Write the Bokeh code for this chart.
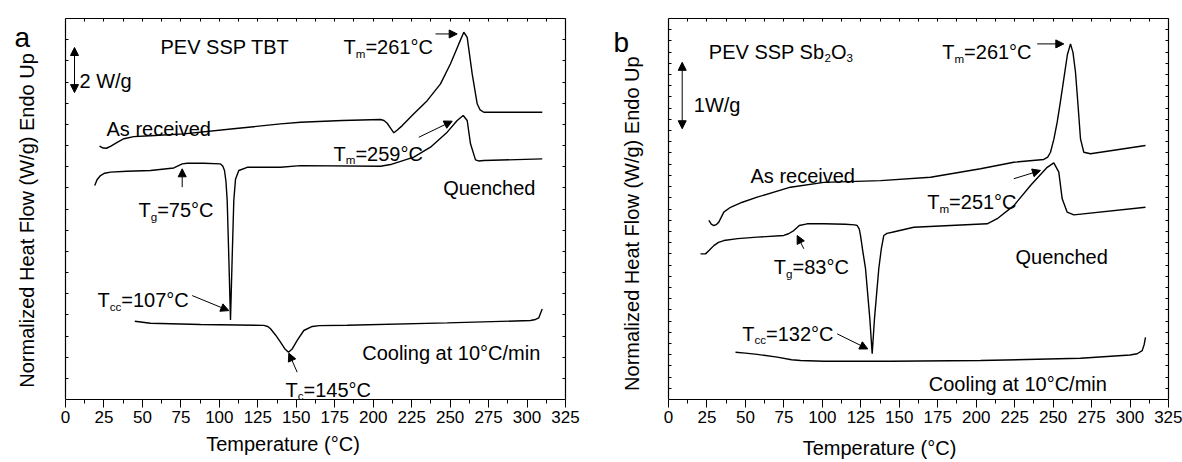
import math
from bokeh.plotting import figure
from bokeh.models import Range1d, LinearAxis, FixedTicker, Arrow, NormalHead
from bokeh.layouts import row
from bokeh.embed import file_html
from bokeh.resources import INLINE
from bokeh.core.properties import value

FONT = "Liberation Sans"

# ---------------- data: panel a (PEV SSP TBT) ----------------
a_recv_T = [22.1, 24.5, 26.65, 29.5, 33.6, 38, 44.4, 55.25, 76.9, 109.2, 139.75, 152.75, 180, 204.75, 207,
            209.1, 211.5, 213.4, 215.5, 218.9, 226.4, 235.1, 243.75, 250.25, 255.65, 258.9, 261.1, 264.35,
            267.6, 269.5, 271.9, 290, 309.9]
a_recv_Y = [11.97, 11.88, 11.87, 11.97, 12.15, 12.32, 12.42, 12.46, 12.55, 12.79, 13.02, 13.10, 13.18, 13.23,
            13.18, 13.05, 12.8, 12.60, 12.72, 12.94, 13.50, 14.12, 14.91, 15.86, 16.80, 17.35, 17.11, 15.38,
            13.97, 13.68, 13.57, 13.57, 13.57]

a_quen_T = [19.0, 20.5, 22.75, 25.5, 29.25, 40, 55.25, 70.4, 73.5, 75.85, 79.1, 90, 100.75, 102.3, 103.35,
            104.3, 105.1, 106.2, 107.25, 108.3, 109.4, 110.5, 112.65, 118.1, 139.75, 152.75, 204.75, 211.25,
            226.4, 237.25, 248.1, 254.6, 258.5, 261.1, 263.25, 266.5, 268.5, 271.9, 309.9]
a_quen_Y = [10.11, 10.38, 10.58, 10.69, 10.74, 10.78, 10.82, 10.94, 11.05, 11.13, 11.16, 11.16, 11.13, 11.02,
            10.82, 10.3, 9.40, 6.6, 3.76, 6.6, 9.40, 10.4, 10.82, 10.97, 10.97, 11.05, 11.02, 11.10, 11.45,
            11.92, 12.63, 13.18, 13.42, 13.18, 12.08, 11.32, 11.27, 11.29, 11.37]

a_cool_T = [45.05, 55.25, 87.75, 128.9, 131.5, 133.25, 136.5, 139.75, 142.5, 144.95, 147.5, 150.6, 154.9,
            160.4, 165, 183.1, 248.1, 302.25, 305.5, 307.65, 309.85]
a_cool_Y = [3.70, 3.60, 3.54, 3.50, 3.45, 3.34, 3.05, 2.71, 2.40, 2.23, 2.40, 2.79, 3.26, 3.45, 3.49, 3.51,
            3.62, 3.73, 3.78, 3.86, 4.28]

# ---------------- data: panel b (PEV SSP Sb2O3) ----------------
b_recv_T = [26.2, 27.8, 29.45, 31, 32.7, 35.95, 40.3, 48, 57.65, 79.3, 100.95, 137.8, 170.3, 202.8, 224.45,
            243.95, 246.5, 248.3, 250.5, 252.65, 254.8, 256.95, 259.3, 261.3, 262.9, 264.55, 266.2, 267.8,
            269.95, 274.3, 310.05]
b_recv_Y = [8.46, 8.28, 8.22, 8.26, 8.38, 8.85, 9.08, 9.32, 9.56, 10.03, 10.26, 10.34, 10.50, 10.90, 11.21,
            11.34, 11.45, 11.68, 12.3, 13.10, 14.1, 15.15, 16.3, 16.80, 16.4, 15.46, 13.9, 12.31, 11.68,
            11.61, 12.0]

b_quen_T = [20.8, 24.05, 26.5, 29.45, 32.5, 35.95, 45, 57.65, 74.95, 78, 81.45, 85, 90.15, 100.95, 115, 121,
            122.65, 124, 124.8, 126.3, 128.05, 130.85, 132.4, 133.9, 136.7, 138.3, 139.95, 142, 145.4,
            159.45, 207.15, 213.65, 224.45, 235.3, 246.15, 250.45, 253.7, 255.9, 259.15, 263.45, 310.05]
b_quen_Y = [6.88, 6.88, 7.05, 7.27, 7.42, 7.51, 7.60, 7.67, 7.75, 7.83, 7.98, 8.22, 8.30, 8.30, 8.28, 8.25,
            8.22, 8.05, 7.75, 7.0, 6.19, 3.83, 2.16, 3.83, 6.19, 7.1, 7.75, 7.85, 7.90, 8.14, 8.30, 8.54,
            9.16, 10.11, 10.97, 11.18, 10.74, 9.48, 8.85, 8.72, 9.08]

b_cool_T = [43.55, 50, 57.65, 70.65, 80, 85.8, 100.95, 144.3, 202.8, 267.8, 300, 304.65, 307.9, 309.2, 310.05]
b_cool_Y = [2.23, 2.19, 2.13, 2.0, 1.88, 1.84, 1.81, 1.81, 1.84, 1.95, 2.1, 2.16, 2.31, 2.6, 2.94]

x_ticks = list(range(0, 326, 25))
x_minor = [12.5 + 25 * k for k in range(13)]

# ---------------- annotations ----------------
a_texts = [
    (61.75, 16.63, [("PEV SSP TBT", "n")]),
    (9.1, 15.07, [("2 W/g", "n")]),
    (26.65, 12.79, [("As received", "n")]),
    (47.45, 8.93, [("T", "n"), ("g", "sub"), ("=75°C", "n")]),
    (20.8, 4.68, [("T", "n"), ("cc", "sub"), ("=107°C", "n")]),
    (143.0, 0.46, [("T", "n"), ("c", "sub"), ("=145°C", "n")]),
    (192.85, 2.19, [("Cooling at 10°C/min", "n")]),
    (180.7, 16.64, [("T", "n"), ("m", "sub"), ("=261°C", "n")]),
    (174.2, 11.6, [("T", "n"), ("m", "sub"), ("=259°C", "n")]),
    (245.5, 9.98, [("Quenched", "n")]),
]
a_arrows = [  # x0, y0, x1, y1, double-headed
    (240.5, 17.27, 254.6, 17.27, False),
    (229.65, 12.39, 251.35, 13.15, False),
    (75.85, 10.03, 75.85, 10.90, False),
    (82.35, 4.91, 106.15, 4.20, False),
    (150.6, 1.29, 145.15, 2.19, False),
    (5.85, 14.5, 5.85, 16.63, True),
]
b_texts = [
    (26.2, 16.41, [("PEV SSP Sb", "n"), ("2", "sub"), ("O", "n"), ("3", "sub")]),
    (16.45, 13.89, [("1W/g", "n")]),
    (53.3, 10.58, [("As received", "n")]),
    (177.9, 16.41, [("T", "n"), ("m", "sub"), ("=261°C", "n")]),
    (168.15, 9.32, [("T", "n"), ("m", "sub"), ("=251°C", "n")]),
    (225.55, 6.72, [("Quenched", "n")]),
    (68.45, 6.25, [("T", "n"), ("g", "sub"), ("=83°C", "n")]),
    (47.9, 3.10, [("T", "n"), ("cc", "sub"), ("=132°C", "n")]),
    (169.2, 0.74, [("Cooling at 10°C/min", "n")]),
]
b_arrows = [
    (239.65, 16.80, 256.95, 16.80, False),
    (224.45, 10.43, 241.8, 10.82, False),
    (87.95, 7.12, 83.65, 7.75, False),
    (109.65, 3.10, 129.55, 2.39, False),
    (8.9, 12.79, 8.9, 15.93, True),
]

YLABEL = "Normalized Heat Flow (W/g) Endo Up"
XLABEL = "Temperature (°C)"

# Arial / Liberation Sans advance widths (per 1000 em)
WID = {' ': 278, '=': 584, '°': 400, 'C': 722, 'T': 611, 'm': 833, 'g': 556, 'c': 500, 'P': 667, 'E': 667,
       'V': 667, 'S': 667, 'B': 667, 'b': 556, 'O': 778, 'W': 944, '/': 278, 'A': 667, 's': 500, 'r': 333,
       'e': 556, 'i': 222, 'v': 500, 'd': 556, 'Q': 778, 'u': 556, 'n': 556, 'h': 556, 'o': 556, 'l': 222,
       't': 278, 'a': 556}

PX_PER_UNIT = 381 / 18.0
PX_PER_DEG = 500 / 325.0
FS = 20
SUB_FS = 11.6
SUB_DROP = 6.0 / PX_PER_UNIT


def width(s, fs):
    return sum(WID.get(ch, 556) for ch in s) * fs / 1000.0


def txt(p, x, y, s, fs, off=0.0, angle=0.0, align="left"):
    p.text(x=[x], y=[y], text=[s], x_offset=off, angle=angle, text_font=value(FONT),
           text_font_size=f"{fs}px", text_align=align, text_baseline="alphabetic", text_color="black")


def rich(p, x, y, segs):
    off = 0.0
    for s, kind in segs:
        if kind == "sub":
            txt(p, x, y - SUB_DROP, s, SUB_FS, off)
            off += width(s, SUB_FS)
        else:
            txt(p, x, y, s, FS, off)
            off += width(s, FS)


def make_panel(left_px, right_b, top_b, bottom_b, yticks, label_standoff):
    p = figure(frame_width=left_px + 500, frame_height=381,
               x_range=Range1d(-left_px / PX_PER_DEG, 325), y_range=Range1d(0, 18),
               output_backend="svg", toolbar_location=None, min_border_left=0,
               min_border_right=right_b, min_border_top=top_b, min_border_bottom=bottom_b,
               background_fill_color="white", border_fill_color="white")
    p.grid.visible = False
    p.outline_line_color = None

    xa = p.xaxis[0]
    xa.bounds = (0, 325)
    xa.ticker = FixedTicker(ticks=x_ticks, minor_ticks=x_minor)
    xa.major_tick_in = 0
    xa.major_tick_out = 8
    xa.minor_tick_in = 0
    xa.minor_tick_out = 4
    xa.major_label_standoff = 3
    xa.major_label_text_font = FONT
    xa.major_label_text_font_size = "17px"
    xa.major_label_text_color = "black"
    xa.axis_label = XLABEL
    xa.axis_label_text_font = FONT
    xa.axis_label_text_font_size = "20px"
    xa.axis_label_text_font_style = "normal"
    xa.axis_label_text_color = "black"
    xa.axis_label_standoff = label_standoff
    xa.axis_line_color = "black"
    xa.axis_line_width = 1.2
    xa.major_tick_line_color = "black"
    xa.minor_tick_line_color = "black"

    ya = p.yaxis[0]
    ya.fixed_location = 0
    ya.bounds = (0, 18)
    ya.ticker = FixedTicker(ticks=[], minor_ticks=yticks)
    ya.major_tick_in = 0
    ya.major_tick_out = 0
    ya.minor_tick_in = 3
    ya.minor_tick_out = 0
    ya.axis_line_color = "black"
    ya.axis_line_width = 1.2
    ya.minor_tick_line_color = "black"

    ra = LinearAxis(ticker=FixedTicker(ticks=[], minor_ticks=yticks), bounds=(0, 18),
                    major_tick_in=0, major_tick_out=0, minor_tick_in=3, minor_tick_out=0,
                    axis_line_color="black", axis_line_width=1.2, minor_tick_line_color="black",
                    major_label_standoff=0)
    p.add_layout(ra, "right")
    ta = LinearAxis(ticker=FixedTicker(ticks=[], minor_ticks=x_ticks + x_minor), bounds=(0, 325),
                    major_tick_in=0, major_tick_out=0, minor_tick_in=3, minor_tick_out=0,
                    axis_line_color="black", axis_line_width=1.2, minor_tick_line_color="black",
                    major_label_standoff=0)
    p.add_layout(ta, "above")
    return p


def draw(p, curves, texts, arrows, letter, letter_xy, ylab_xy):
    for T, Y in curves:
        p.line(T, Y, line_color="black", line_width=1.4)
    for x, y, segs in texts:
        rich(p, x, y, segs)
    for x0, y0, x1, y1, dbl in arrows:
        p.add_layout(Arrow(x_start=x0, y_start=y0, x_end=x1, y_end=y1, line_color="black", line_width=1,
                           end=NormalHead(size=8, fill_color="black", line_color="black"),
                           start=NormalHead(size=8, fill_color="black", line_color="black") if dbl else None))
    txt(p, letter_xy[0], letter_xy[1], letter, 28)
    txt(p, ylab_xy[0], ylab_xy[1], YLABEL, 20, angle=math.pi / 2, align="center")


# panel a: figure at page x=0, axis x=0 at page x=65, plot box 18..399 px high
pa = make_panel(65, 25, 18, 61, list(range(1, 18)), 7)
draw(pa, [(a_recv_T, a_recv_Y), (a_quen_T, a_quen_Y), (a_cool_T, a_cool_Y)], a_texts, a_arrows,
     "a", (-33.15, 17.1), (-24.9, 8.46))

# panel b: figure at page x=590, axis x=0 at page x=668, plot box 13..394 px high
pb = make_panel(78, 14, 13, 66, [k * 18.0 / 34 for k in range(1, 34)], 11)
draw(pb, [(b_recv_T, b_recv_Y), (b_quen_T, b_quen_Y), (b_cool_T, b_cool_Y)], b_texts, b_arrows,
     "b", (-35.75, 16.86), (-23.6, 8.31))

layout = row(pa, pb)
open("out.html", "w").write(file_html(layout, INLINE))
